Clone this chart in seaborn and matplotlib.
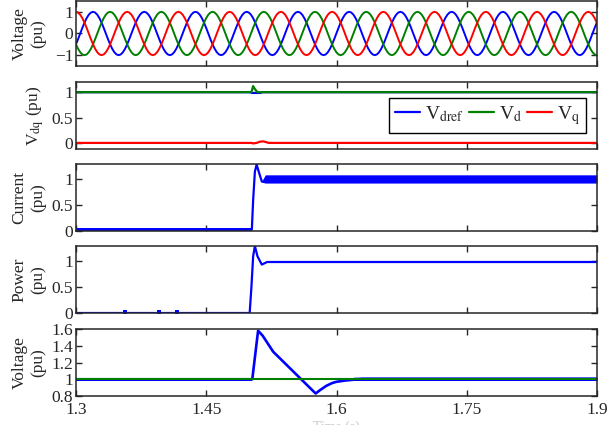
import numpy as np
import pandas as pd
import seaborn as sns
import matplotlib
matplotlib.use("Agg")
from matplotlib import pyplot as plt
from matplotlib.ticker import FuncFormatter

# ---- data ----
# three-phase grid voltage: one sampled cycle (15 deg steps), period and first blue peak
cycle = [1.0, 0.966, 0.866, 0.707, 0.5, 0.259, 0.0, -0.259, -0.5, -0.707, -0.866, -0.966,
         -1.0, -0.966, -0.866, -0.707, -0.5, -0.259, 0.0, 0.259, 0.5, 0.707, 0.866, 0.966]
period = 0.059
blue_peak = 1.3196
n_cycles = 12

# Vdq panel
t_vdref = [1.3, 1.500, 1.503, 1.512, 1.515, 1.9]
vdref = [1.0, 1.0, 0.985, 0.985, 1.0, 1.0]
t_vd = [1.3, 1.502, 1.504, 1.506, 1.509, 1.9]
vd = [1.0, 1.0, 1.12, 1.06, 1.0, 1.0]
t_vq = [1.3, 1.502, 1.504, 1.508, 1.512, 1.516, 1.522, 1.9]
vq = [0.0, 0.0, -0.01, 0.0, 0.025, 0.03, 0.0, 0.0]

# current
t_cur = [1.3, 1.5025, 1.504, 1.506, 1.508, 1.511, 1.514, 1.517, 1.52, 1.525, 1.9]
cur = [0.03, 0.03, 0.6, 1.15, 1.29, 1.12, 0.96, 0.95, 0.98, 1.0, 1.0]
t_cur_pre, cur_pre_lo, cur_pre_hi = [1.3, 1.503], [0.0, 0.0], [0.065, 0.065]
t_cur_post = [1.514, 1.518, 1.9]
cur_post_lo = [0.95, 0.93, 0.93]
cur_post_hi = [0.97, 1.09, 1.09]

# power
t_pow = [1.3, 1.5, 1.502, 1.504, 1.506, 1.509, 1.514, 1.52, 1.9]
pwr = [0.0, 0.0, 0.5, 1.1, 1.3, 1.1, 0.94, 0.99, 0.99]
t_pow_post, pow_post_lo, pow_post_hi = [1.52, 1.9], [0.97, 0.97], [1.01, 1.01]
t_blips = [1.356, 1.396, 1.416]
blips = [0.015, 0.015, 0.015]

# PCC voltage
t_v = [1.3, 1.503, 1.5097, 1.515, 1.527, 1.576, 1.581, 1.588, 1.595, 1.6, 1.61, 1.62, 1.63, 1.9]
v = [1.0, 1.0, 1.58, 1.52, 1.33, 0.83, 0.87, 0.92, 0.955, 0.97, 0.985, 0.995, 1.005, 1.005]
t_v_pre, v_pre_lo, v_pre_hi = [1.3, 1.503], [0.978, 0.978], [1.02, 1.02]
t_v_post, v_post_lo, v_post_hi = [1.615, 1.62, 1.9], [0.99, 0.985, 0.985], [1.0, 1.025, 1.025]
t_vref = [1.3, 1.9]
vref = [1.0, 1.0]

xticks = [1.3, 1.45, 1.6, 1.75, 1.9]

# ---- style ----
sns.set_style("ticks")
plt.rcParams["font.family"] = ["Liberation Serif", "DejaVu Serif"]
plt.rcParams["mathtext.fontset"] = "stix"
plt.rcParams["axes.linewidth"] = 1.1

BLUE, GREEN, RED = "#0000ff", "#008000", "#ff0000"

fig = plt.figure(figsize=(6.09, 4.25), dpi=100)
left, width, h = 0.1248, 0.8555, 0.1576
bottoms = [0.8447, 0.6494, 0.4565, 0.2635, 0.0682]
axes = [fig.add_axes([left, b, width, h if i else 0.153]) for i, b in enumerate(bottoms)]

fmt = FuncFormatter(lambda val, pos: ("%g" % val).replace("-", "\u2212"))

# panel 1: three-phase voltages
t_abc = blue_peak - period + np.arange(24 * n_cycles) * period / 24
abc = pd.DataFrame({
    "t": np.concatenate([t_abc] * 3),
    "v": np.concatenate([np.tile(cycle, n_cycles),
                         np.tile(np.roll(cycle, 8), n_cycles),
                         np.tile(np.roll(cycle, -8), n_cycles)]),
    "phase": ["a"] * len(t_abc) + ["b"] * len(t_abc) + ["c"] * len(t_abc),
})
sns.lineplot(data=abc, x="t", y="v", hue="phase", palette=[BLUE, GREEN, RED],
             lw=1.4, legend=False, ax=axes[0])
axes[0].set_ylim(-1.5, 1.5)
axes[0].set_yticks([-1, 0, 1])
axes[0].set_ylabel("Voltage\n(pu)")

# panel 2: Vdq
ax = axes[1]
sns.lineplot(x=t_vdref, y=vdref, color=BLUE, lw=1.6, ax=ax, label=r"V$_{\mathrm{dref}}$")
sns.lineplot(x=t_vd, y=vd, color=GREEN, lw=1.6, ax=ax, label=r"V$_{\mathrm{d}}$")
sns.lineplot(x=t_vq, y=vq, color=RED, lw=1.6, ax=ax, label=r"V$_{\mathrm{q}}$")
ax.set_ylim(-0.12, 1.2)
ax.set_yticks([0, 0.5, 1])
ax.set_ylabel(r"V$_{\mathrm{dq}}$ (pu)")
leg = ax.legend(loc="center right", bbox_to_anchor=(0.979, 0.5), ncol=3, fontsize=14,
                frameon=True, fancybox=False, framealpha=1, edgecolor="black",
                handlelength=1.3, handletextpad=0.25, columnspacing=0.25,
                borderpad=0.3, borderaxespad=0)
leg.get_frame().set_linewidth(1.0)

# panel 3: current
ax = axes[2]
ax.fill_between(t_cur_pre, cur_pre_lo, cur_pre_hi, color=BLUE, lw=0)
ax.fill_between(t_cur_post, cur_post_lo, cur_post_hi, color=BLUE, lw=0)
sns.lineplot(x=t_cur, y=cur, color=BLUE, lw=1.6, ax=ax)
ax.set_ylim(0, 1.3)
ax.set_yticks([0, 0.5, 1])
ax.set_ylabel("Current\n(pu)")

# panel 4: power
ax = axes[3]
ax.fill_between(t_pow_post, pow_post_lo, pow_post_hi, color=BLUE, lw=0)
sns.lineplot(x=t_pow, y=pwr, color=BLUE, lw=1.6, ax=ax)
sns.scatterplot(x=t_blips, y=blips, color=BLUE, marker="s", s=6, linewidth=0, ax=ax)
ax.set_ylim(0, 1.3)
ax.set_yticks([0, 0.5, 1])
ax.set_ylabel("Power\n(pu)")

# panel 5: voltage
ax = axes[4]
ax.fill_between(t_v_pre, v_pre_lo, v_pre_hi, color=BLUE, lw=0)
ax.fill_between(t_v_post, v_post_lo, v_post_hi, color=BLUE, lw=0)
sns.lineplot(x=t_v, y=v, color=BLUE, lw=1.9, ax=ax)
sns.lineplot(x=t_vref, y=vref, color=GREEN, lw=1.5, ax=ax)
ax.set_ylim(0.8, 1.6)
ax.set_yticks([0.8, 1, 1.2, 1.4, 1.6])
ax.set_ylabel("Voltage\n(pu)")
ax.set_xlabel("Time (s)", color="#c8c8c8", labelpad=2)

for i, ax in enumerate(axes):
    ax.set_xlim(1.3, 1.9)
    ax.set_xticks(xticks)
    ax.xaxis.set_major_formatter(fmt)
    ax.yaxis.set_major_formatter(fmt)
    ax.tick_params(direction="in", top=True, right=True, length=4, width=1,
                   labelsize=12.5, pad=2)
    ax.tick_params(axis="x", pad=4)
    if i < 4:
        ax.tick_params(labelbottom=False)
        ax.set_xlabel("")
    ax.yaxis.label.set_size(12.5)
    ax.yaxis.set_label_coords(-0.058, 0.5)
    for s in ax.spines.values():
        s.set_visible(True)

fig.savefig("out.png", dpi=100)
